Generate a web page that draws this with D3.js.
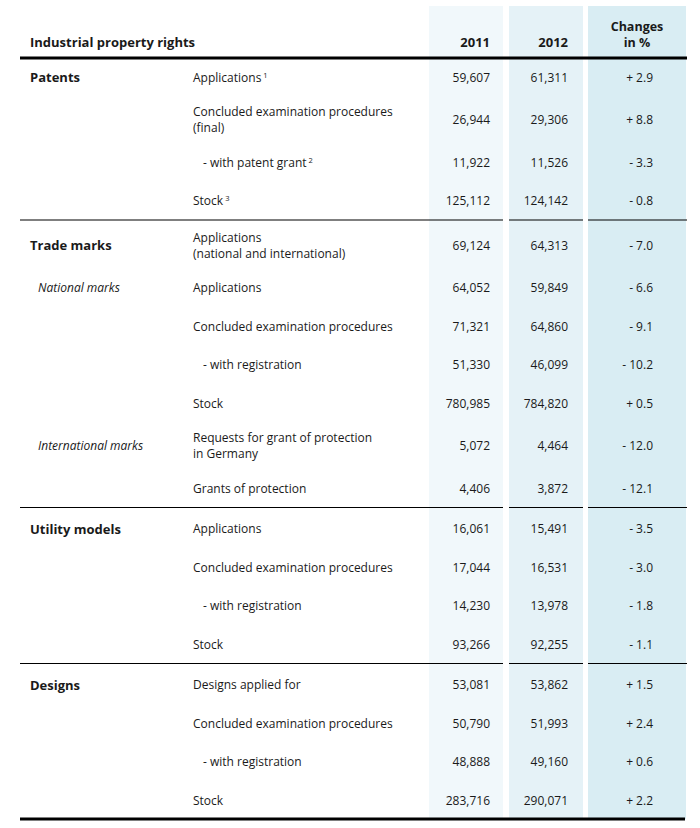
<!DOCTYPE html>
<html><head><meta charset="utf-8">
<script src="https://cdn.jsdelivr.net/npm/d3@7"></script>
<style>
html,body{margin:0;padding:0;background:#fff;}
svg text{font-family:"Open Sans","Noto Sans",sans-serif;fill:#1a1a1a;}
</style></head>
<body>
<svg id="chart" width="700" height="828"></svg>
<script>
// ---- data ----
const sections = ["Patents","Trade marks","Utility models","Designs"];
const rowSection = [0,0,0,0, 1,1,1,1,1,1,1, 2,2,2,2, 3,3,3,3];
const subgroups = [{row:5,label:"National marks"},{row:9,label:"International marks"}];
const labels = [
  ["Applications"],["Concluded examination procedures","(final)"],["- with patent grant"],["Stock"],
  ["Applications","(national and international)"],["Applications"],["Concluded examination procedures"],["- with registration"],["Stock"],["Requests for grant of protection","in Germany"],["Grants of protection"],
  ["Applications"],["Concluded examination procedures"],["- with registration"],["Stock"],
  ["Designs applied for"],["Concluded examination procedures"],["- with registration"],["Stock"]
];
const footnotes = ["1","","2","3", "","","","","","","", "","","","", "","","",""];
const values2011 = [59607,26944,11922,125112, 69124,64052,71321,51330,780985,5072,4406, 16061,17044,14230,93266, 53081,50790,48888,283716];
const values2012 = [61311,29306,11526,124142, 64313,59849,64860,46099,784820,4464,3872, 15491,16531,13978,92255, 53862,51993,49160,290071];
const changePct = [2.9,8.8,-3.3,-0.8, -7.0,-6.6,-9.1,-10.2,0.5,-12.0,-12.1, -3.5,-3.0,-1.8,-1.1, 1.5,2.4,0.6,2.2];
const columnHeads = ["2011","2012"];
const title = "Industrial property rights";
const changeHead = ["Changes","in %"];

// ---- layout ----
const svg = d3.select("#chart");
const n = labels.length;
const yPos = [];
let y = 77;
for (let i = 0; i < n; i++) {
  if (i > 0) {
    y += 38.5;
    if (labels[i].length > 1 || labels[i-1].length > 1) y += 4;
    if (rowSection[i] !== rowSection[i-1]) y += 2;
  }
  yPos.push(y);
}
const yRow = d3.scaleOrdinal().domain(d3.range(n)).range(yPos);

const colX = d3.scaleOrdinal().domain(["c2011","c2012","chg"]).range([[429,503],[509,583],[588,686]]);
const colFill = d3.scaleOrdinal().domain(["c2011","c2012","chg"]).range(["#f1f8fb","#e5f2f7","#d9edf3"]);
const numRight = d3.scaleOrdinal().domain(["c2011","c2012"]).range([490,568]);

const left = 20, right = 687;
const topBg = 6, bottomLine = yPos[n-1] + 19;

// column backgrounds
svg.selectAll("rect.col").data(colX.domain()).join("rect")
  .attr("x", d => colX(d)[0]).attr("width", d => colX(d)[1]-colX(d)[0])
  .attr("y", topBg).attr("height", bottomLine - topBg)
  .attr("fill", d => colFill(d));

// header
svg.append("text").attr("x", 30).attr("y", 47).attr("font-size", 13).attr("font-weight", 700).text(title);
svg.selectAll("text.yh").data(columnHeads).join("text")
  .attr("x", (d,i) => numRight(["c2011","c2012"][i])).attr("y", 47)
  .attr("text-anchor","end").attr("font-size", 13).attr("font-weight", 700).text(d => d);
svg.selectAll("text.ch").data(changeHead).join("text")
  .attr("x", 637).attr("y", (d,i) => 31 + i*16)
  .attr("text-anchor","middle").attr("font-size", 12.5).attr("font-weight", 700).text(d => d);

// thick lines
svg.append("line").attr("x1", left).attr("x2", right).attr("y1", 58).attr("y2", 58)
  .attr("stroke","#000").attr("stroke-width",3);
svg.append("line").attr("x1", left).attr("x2", right-2).attr("y1", bottomLine).attr("y2", bottomLine)
  .attr("stroke","#000").attr("stroke-width",3);

// section separators (with gaps between shaded columns)
const segs = [[left,503],[509,583],[588,right]];
const breaks = d3.range(1,n).filter(i => rowSection[i] !== rowSection[i-1]).map(i => yPos[i-1] + 19.5);
breaks.forEach(by => {
  svg.selectAll(null).data(segs).join("line")
    .attr("x1", d => d[0]).attr("x2", d => d[1]).attr("y1", by).attr("y2", by)
    .attr("stroke","#000").attr("stroke-width",1.2);
});

// section titles
sections.forEach((s, si) => {
  const first = rowSection.indexOf(si);
  svg.append("text").attr("x", 30).attr("y", yRow(first) + 5)
    .attr("font-size", 13).attr("font-weight", 700).text(s);
});
// subgroups
svg.selectAll("text.sub").data(subgroups).join("text")
  .attr("x", 38).attr("y", d => yRow(d.row) + 4.5)
  .attr("font-size", 12).attr("font-style","italic").text(d => d.label);

// row labels
const fmt = d3.format(",");
const fmtChg = v => (v >= 0 ? "+ " : "- ") + Math.abs(v).toFixed(1);
labels.forEach((lines, i) => {
  const cy = yRow(i);
  const indent = lines[0].startsWith("- ") ? 203 : 193;
  lines.forEach((ln, k) => {
    const ty = cy + 4.5 + (lines.length > 1 ? (k - 0.5) * 16 : 0);
    const t = svg.append("text").attr("x", indent).attr("y", ty).attr("font-size", 12).text(ln);
    if (k === lines.length - 1 && footnotes[i]) {
      t.append("tspan").attr("dx", 2).attr("dy", -4).attr("font-size", 7.5).text(footnotes[i]);
    }
  });
  svg.append("text").attr("x", numRight("c2011")).attr("y", cy + 4.5).attr("text-anchor","end")
    .attr("font-size", 12).text(fmt(values2011[i]));
  svg.append("text").attr("x", numRight("c2012")).attr("y", cy + 4.5).attr("text-anchor","end")
    .attr("font-size", 12).text(fmt(values2012[i]));
  svg.append("text").attr("x", 653).attr("y", cy + 4.5).attr("text-anchor","end")
    .attr("font-size", 12).text(fmtChg(changePct[i]));
});
</script>
</body></html>
